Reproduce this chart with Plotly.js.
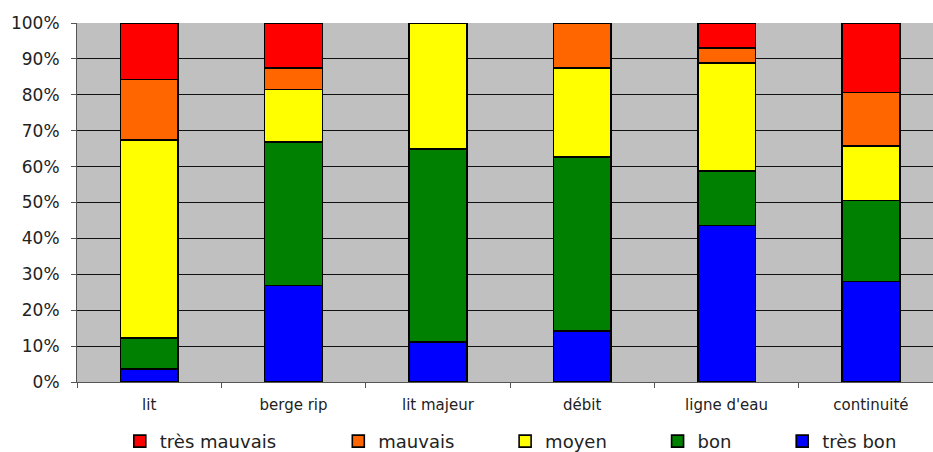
<!DOCTYPE html>
<html><head><meta charset="utf-8">
<script src="https://cdn.plot.ly/plotly-3.0.1.min.js"></script>
<style>html,body{margin:0;padding:0;overflow:hidden;background:#fff}</style>
</head><body>
<div id="chart" style="width:933px;height:452px"></div>
<script>
var categories = ["lit", "berge rip", "lit majeur", "débit", "ligne d'eau", "continuité"];
var tresBon     = [3.7, 26.9, 11.2, 14.2, 43.6, 28.0];
var bon         = [8.6, 39.9, 53.7, 48.4, 15.1, 22.6];
var moyen       = [55.1, 14.7, 35.1, 24.8, 30.2, 15.2];
var mauvais     = [16.9, 5.9, 0, 12.6, 4.1, 14.8];
var tresMauvais = [15.7, 12.6, 0, 0, 7.0, 19.4];
var yTicks = [0, 10, 20, 30, 40, 50, 60, 70, 80, 90, 100];

var pad = function(n){ return "\u00a0".repeat(n); };
var series = [
  {name: "très bon", y: tresBon, color: "#0000FF", pad: 0},
  {name: "bon", y: bon, color: "#008000", pad: 8},
  {name: "moyen", y: moyen, color: "#FFFF00", pad: 8},
  {name: "mauvais", y: mauvais, color: "#FF6600", pad: 8},
  {name: "très mauvais", y: tresMauvais, color: "#FF0000", pad: 10}
];
var traces = series.map(function(s){
  return {type: "bar", name: s.name + pad(s.pad), x: categories, y: s.y, width: 0.4,
    marker: {color: s.color, line: {color: "#000", width: 1.6}}, hoverinfo: "y+name"};
});

var layout = {
  width: 933, height: 452,
  margin: {l: 77, r: 0, t: 23, b: 69.5, autoexpand: false},
  barmode: "stack",
  paper_bgcolor: "#fff",
  plot_bgcolor: "#C0C0C0",
  font: {family: "DejaVu Sans", size: 16, color: "#222"},
  xaxis: {range: [-0.5, 5.43], tickson: "boundaries", ticks: "outside", ticklen: 5, tickcolor: "#555",
    showline: true, linecolor: "#555", linewidth: 1, showgrid: false,
    tickfont: {family: "DejaVu Sans", size: 15, color: "#222"}, ticklabelstandoff: 9},
  yaxis: {range: [0, 100], tickvals: yTicks, ticktext: yTicks.map(function(v){return v + "%";}),
    ticks: "outside", ticklen: 5, tickcolor: "#555", showline: true, linecolor: "#555", linewidth: 1,
    gridcolor: "#111", gridwidth: 1, zeroline: false,
    tickfont: {family: "DejaVu Sans", size: 17, color: "#222"}, ticklabelstandoff: 8},
  legend: {orientation: "h", traceorder: "reversed", x: 0.05, xanchor: "left", y: -0.114, yanchor: "top",
    font: {family: "DejaVu Sans", size: 18, color: "#222"}, itemwidth: 30},
  showlegend: true
};
Plotly.newPlot("chart", traces, layout, {displayModeBar: false, staticPlot: true});
</script>
</body></html>
